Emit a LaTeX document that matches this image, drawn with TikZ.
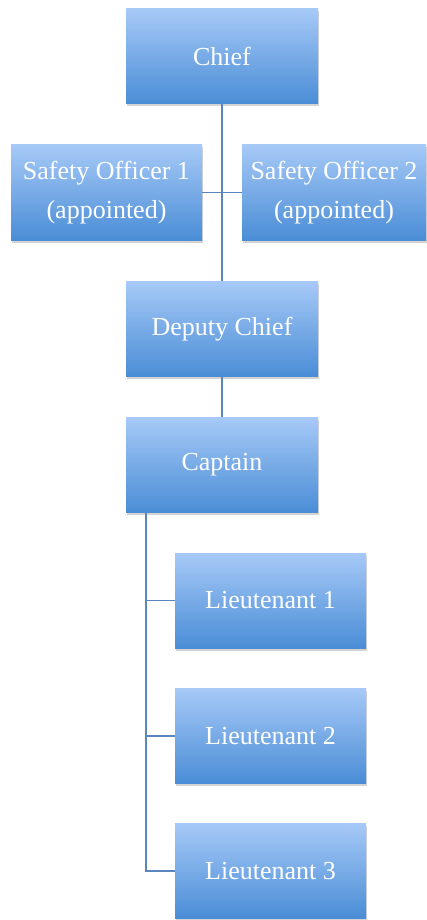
\documentclass[tikz,border=0pt]{standalone}
\usepackage{fontspec}
\setmainfont{Liberation Serif}
\usetikzlibrary{shadows}
\definecolor{boxtop}{HTML}{A6C9F7}
\definecolor{boxbot}{HTML}{4A8DD6}
\definecolor{linec}{HTML}{5A86BE}
\tikzset{
  orgbox/.style={rectangle, minimum width=#1, minimum height=95pt, inner sep=0pt,
    top color=boxtop, bottom color=boxbot, draw=none, text=white,
    font=\fontsize{26}{39}\selectfont, align=center,
    drop shadow={opacity=0.35, shadow xshift=1pt, shadow yshift=-2.5pt}},
  orgbox/.default=192pt,
  conn/.style={draw=linec, line width=1.6pt}
}
\begin{document}
\begin{tikzpicture}[x=1pt,y=-1pt]
\useasboundingbox (0,0) rectangle (427,920);
\node[orgbox] (chief) at (222,56.5) {Chief};
\node[orgbox=191pt] (so1) at (106.5,192.5) {Safety Officer 1\\(appointed)};
\node[orgbox=184pt] (so2) at (334,192.5) {Safety Officer 2\\(appointed)};
\node[orgbox] (dep) at (222,329) {Deputy Chief};
\node[orgbox] (cap) at (222,465) {Captain};
\node[orgbox=191pt] (l1) at (270.5,600.5) {Lieutenant 1};
\node[orgbox=191pt] (l2) at (270.5,736) {Lieutenant 2};
\node[orgbox=191pt] (l3) at (270.5,871) {Lieutenant 3};
\coordinate (cb) at (146,512);
\draw[conn] (chief.south) -- (dep.north);
\draw[conn] (so1.east) -- (so2.west);
\draw[conn] (dep.south) -- (cap.north);
\draw[conn] (cb) |- (l3.west);
\draw[conn] (cb |- l1.west) -- (l1.west);
\draw[conn] (cb |- l2.west) -- (l2.west);
\end{tikzpicture}
\end{document}
